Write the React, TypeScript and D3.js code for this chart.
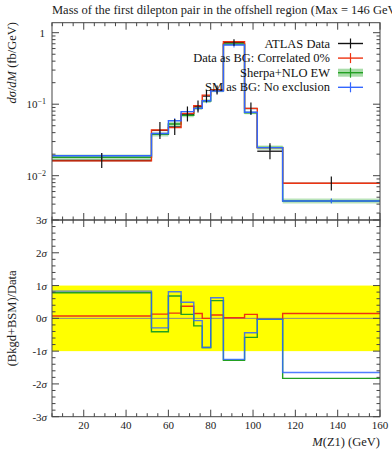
import React from 'react';
import * as d3 from 'd3';

// bin edges of M(Z1) in GeV
const edges = [5, 52, 60, 66, 72, 76, 80, 86, 96, 102, 114, 160];

// ATLAS data, dsigma/dM (fb/GeV), with error bar ends
const dataVals = [0.0163, 0.043, 0.048, 0.073, 0.093, 0.13, 0.158, 0.73, 0.087, 0.022, 0.0078];
const dataLo = [0.0128, 0.0327, 0.0371, 0.0573, 0.0767, 0.107, 0.137, 0.656, 0.0717, 0.017, 0.00622];
const dataHi = [0.0207, 0.0565, 0.0621, 0.0929, 0.113, 0.158, 0.183, 0.812, 0.1055, 0.0285, 0.00977];

// predictions
const redVals = [0.0161, 0.0436, 0.047, 0.0745, 0.0953, 0.134, 0.158, 0.748, 0.0875, 0.0247, 0.00783];
const greenVals = [0.0181, 0.038, 0.053, 0.07, 0.088, 0.111, 0.155, 0.695, 0.076, 0.0247, 0.00443];
const greenErr = [0.09, 0.07, 0.07, 0.06, 0.06, 0.06, 0.05, 0.04, 0.05, 0.07, 0.08];
const blueVals = [0.019, 0.039, 0.0588, 0.0786, 0.0875, 0.112, 0.153, 0.673, 0.077, 0.0247, 0.00443];

// significance in the ratio panel (sigma)
const redSig = [0.07, 0.13, 0.16, 0.37, 0.15, 0.0, 0.1, 0.02, 0.12, -0.03, 0.15];
const greenSig = [0.78, -0.41, 0.68, 0.12, -0.23, -0.89, 0.54, -1.28, -0.58, -0.03, -1.83];
const blueSig = [0.83, -0.29, 0.81, 0.49, -0.07, -0.89, 0.63, -1.25, -0.44, -0.03, -1.65];

const xTicks = [20, 40, 60, 80, 100, 120, 140, 160];
const sigmaTicks = [-3, -2, -1, 0, 1, 2, 3];
const legendNames = ['ATLAS Data', 'Data as BG: Correlated 0%', 'Sherpa+NLO EW', 'SM as BG: No exclusion'];

const RED = '#ee3311';
const GREEN = '#22a022';
const BLUE = '#3366ff';
const FONT = '"Liberation Serif", serif';

export default function App() {
  const left = 52, right = 380;
  const topY0 = 22.7, topY1 = 220, botY1 = 416.7;

  const x = d3.scaleLinear().domain([5, 160]).range([left, right]);
  const y = d3.scaleLog().domain([0.0024, 1.38]).range([topY1, topY0]);
  const r = d3.scaleLinear().domain([-3, 3]).range([botY1, topY1]);

  const stepPts = (vals: number[]) => {
    const pts: [number, number][] = vals.map((v, i) => [edges[i], v]);
    pts.push([edges[edges.length - 1], vals[vals.length - 1]]);
    return pts;
  };
  const histLine = d3.line<[number, number]>()
    .x(d => x(d[0])).y(d => y(d[1])).curve(d3.curveStepAfter);
  const ratioLine = d3.line<[number, number]>()
    .x(d => x(d[0])).y(d => r(d[1])).curve(d3.curveStepAfter);
  const bandArea = d3.area<[number, number, number]>()
    .x(d => x(d[0])).y0(d => y(d[1])).y1(d => y(d[2])).curve(d3.curveStepAfter);
  const bandPts: [number, number, number][] = greenVals.map((v, i) => [edges[i], v * (1 - greenErr[i]), v * (1 + greenErr[i])]);
  bandPts.push([edges[edges.length - 1], bandPts[bandPts.length - 1][1], bandPts[bandPts.length - 1][2]]);

  const mids = edges.slice(0, -1).map((e, i) => (e + edges[i + 1]) / 2);

  // x minor ticks every 5 GeV
  const xMinor = d3.range(5, 161, 5).filter(v => v % 20 !== 0);
  // log ticks
  const logMajor = [0.01, 0.1, 1];
  const logMinor: number[] = [];
  [0.001, 0.01, 0.1].forEach(dec => {
    for (let k = 2; k <= 9; k++) {
      const v = dec * k;
      if (v > 0.0024 && v < 1.38) logMinor.push(v);
    }
  });
  const sigMinor = d3.range(-3, 3.001, 0.2).map(v => Math.round(v * 10) / 10).filter(v => Math.abs(v - Math.round(v)) > 0.01);

  const tickCol = '#444';
  const ML = 7, mL = 3.5;

  return (
    <svg width={392} height={450} style={{ position: 'absolute', left: 0, top: 0 }} fontFamily={FONT}>
      <rect width={392} height={450} fill="#fff" />
      <text x={52} y={14} fontSize={12.5} fill="#222">Mass of the first dilepton pair in the offshell region (Max = 146 GeV)</text>

      {/* top panel */}
      <path d={bandArea(bandPts) || ''} fill="#a8dca8" opacity={0.8} />
      <path d={histLine(stepPts(greenVals)) || ''} fill="none" stroke={GREEN} strokeWidth={1.5} />
      {mids.map((m, i) => (
        <line key={'gt' + i} x1={x(m)} x2={x(m)} y1={y(greenVals[i]) - 2} y2={y(greenVals[i]) + 2} stroke={GREEN} strokeWidth={1} />
      ))}
      {/* data x extents */}
      {dataVals.map((v, i) => (
        <line key={'dh' + i} x1={x(edges[i])} x2={x(edges[i + 1])} y1={y(v)} y2={y(v)} stroke="#111" strokeWidth={1.3} />
      ))}
      <path d={histLine(stepPts(redVals)) || ''} fill="none" stroke={RED} strokeWidth={1.4} />
      <path d={histLine(stepPts(blueVals)) || ''} fill="none" stroke={BLUE} strokeWidth={1.4} />
      {mids.map((m, i) => (
        <line key={'bt' + i} x1={x(m)} x2={x(m)} y1={y(blueVals[i]) - 2.5} y2={y(blueVals[i]) + 2.5} stroke={BLUE} strokeWidth={1} />
      ))}
      {mids.map((m, i) => (
        <line key={'dv' + i} x1={x(m)} x2={x(m)} y1={y(dataLo[i])} y2={y(dataHi[i])} stroke="#111" strokeWidth={1.2} />
      ))}

      {/* legend */}
      {legendNames.map((name, i) => {
        const yy = 43.5 + i * 14.6;
        const col = ['#111', RED, GREEN, BLUE][i];
        return (
          <g key={name}>
            <text x={330} y={yy + 4} fontSize={12.5} textAnchor="end" fill="#111">{name}</text>
            {i === 2 && <rect x={338} y={yy - 4} width={25} height={8} fill="#a8dca8" />}
            <line x1={338} x2={363} y1={yy} y2={yy} stroke={col} strokeWidth={1.4} />
            <line x1={350.5} x2={350.5} y1={yy - 5} y2={yy + 5} stroke={col} strokeWidth={1.2} />
          </g>
        );
      })}

      {/* top frame and ticks */}
      <rect x={left} y={topY0} width={right - left} height={topY1 - topY0} fill="none" stroke={tickCol} strokeWidth={1} />
      {xTicks.map(t => (
        <g key={'xt' + t}>
          <line x1={x(t)} x2={x(t)} y1={topY0} y2={topY0 + ML} stroke={tickCol} />
          <line x1={x(t)} x2={x(t)} y1={topY1} y2={topY1 - ML} stroke={tickCol} />
        </g>
      ))}
      {xMinor.map(t => (
        <g key={'xm' + t}>
          <line x1={x(t)} x2={x(t)} y1={topY0} y2={topY0 + mL} stroke={tickCol} />
          <line x1={x(t)} x2={x(t)} y1={topY1} y2={topY1 - mL} stroke={tickCol} />
        </g>
      ))}
      {logMajor.map(t => (
        <g key={'ym' + t}>
          <line x1={left} x2={left + ML} y1={y(t)} y2={y(t)} stroke={tickCol} />
          <line x1={right} x2={right - ML} y1={y(t)} y2={y(t)} stroke={tickCol} />
        </g>
      ))}
      {logMinor.map(t => (
        <g key={'yn' + t}>
          <line x1={left} x2={left + mL} y1={y(t)} y2={y(t)} stroke={tickCol} />
          <line x1={right} x2={right - mL} y1={y(t)} y2={y(t)} stroke={tickCol} />
        </g>
      ))}
      <text x={45} y={y(1) + 4} fontSize={11} textAnchor="end" fill="#222">1</text>
      {[0.1, 0.01].map((t, i) => (
        <text key={'yl' + t} x={46} y={y(t) + 4} fontSize={11} textAnchor="end" fill="#222">
          10<tspan dy={-4} fontSize={8}>{'\u2212' + (i + 1)}</tspan>
        </text>
      ))}
      <text transform="translate(16,22) rotate(-90)" fontSize={12.5} textAnchor="end" fill="#222">
        <tspan fontStyle="italic">dσ</tspan>/<tspan fontStyle="italic">dM</tspan> (fb/GeV)
      </text>

      {/* ratio panel */}
      <rect x={left} y={r(1)} width={right - left} height={r(-1) - r(1)} fill="#ffff00" />
      <line x1={left} x2={right} y1={r(0)} y2={r(0)} stroke="#888" strokeWidth={1} />
      <path d={ratioLine(stepPts(redSig)) || ''} fill="none" stroke={RED} strokeWidth={1.4} />
      <path d={ratioLine(stepPts(greenSig)) || ''} fill="none" stroke={GREEN} strokeWidth={1.4} />
      <path d={ratioLine(stepPts(blueSig)) || ''} fill="none" stroke={BLUE} strokeWidth={1.4} opacity={0.85} />

      <rect x={left} y={topY1} width={right - left} height={botY1 - topY1} fill="none" stroke={tickCol} strokeWidth={1} />
      {xTicks.map(t => (
        <g key={'rx' + t}>
          <line x1={x(t)} x2={x(t)} y1={topY1} y2={topY1 + ML} stroke={tickCol} />
          <line x1={x(t)} x2={x(t)} y1={botY1} y2={botY1 - ML} stroke={tickCol} />
          <text x={x(t)} y={429} fontSize={11} textAnchor="middle" fill="#222">{t}</text>
        </g>
      ))}
      {xMinor.map(t => (
        <g key={'rm' + t}>
          <line x1={x(t)} x2={x(t)} y1={topY1} y2={topY1 + mL} stroke={tickCol} />
          <line x1={x(t)} x2={x(t)} y1={botY1} y2={botY1 - mL} stroke={tickCol} />
        </g>
      ))}
      {sigmaTicks.map(t => (
        <g key={'st' + t}>
          <line x1={left} x2={left + ML} y1={r(t)} y2={r(t)} stroke={tickCol} />
          <line x1={right} x2={right - ML} y1={r(t)} y2={r(t)} stroke={tickCol} />
          <text x={47} y={r(t) + 4} fontSize={11} textAnchor="end" fill="#222">
            {t < 0 ? '-' + -t : t}<tspan fontStyle="italic">σ</tspan>
          </text>
        </g>
      ))}
      {sigMinor.map(t => (
        <g key={'sm' + t}>
          <line x1={left} x2={left + mL} y1={r(t)} y2={r(t)} stroke={tickCol} />
          <line x1={right} x2={right - mL} y1={r(t)} y2={r(t)} stroke={tickCol} />
        </g>
      ))}
      <text transform={`translate(16,${r(0)}) rotate(-90)`} fontSize={12.5} textAnchor="middle" fill="#222">(Bkgd+BSM)/Data</text>
      <text x={380} y={446} fontSize={12.5} textAnchor="end" fill="#222">
        <tspan fontStyle="italic">M</tspan>(Z1) (GeV)
      </text>
    </svg>
  );
}
